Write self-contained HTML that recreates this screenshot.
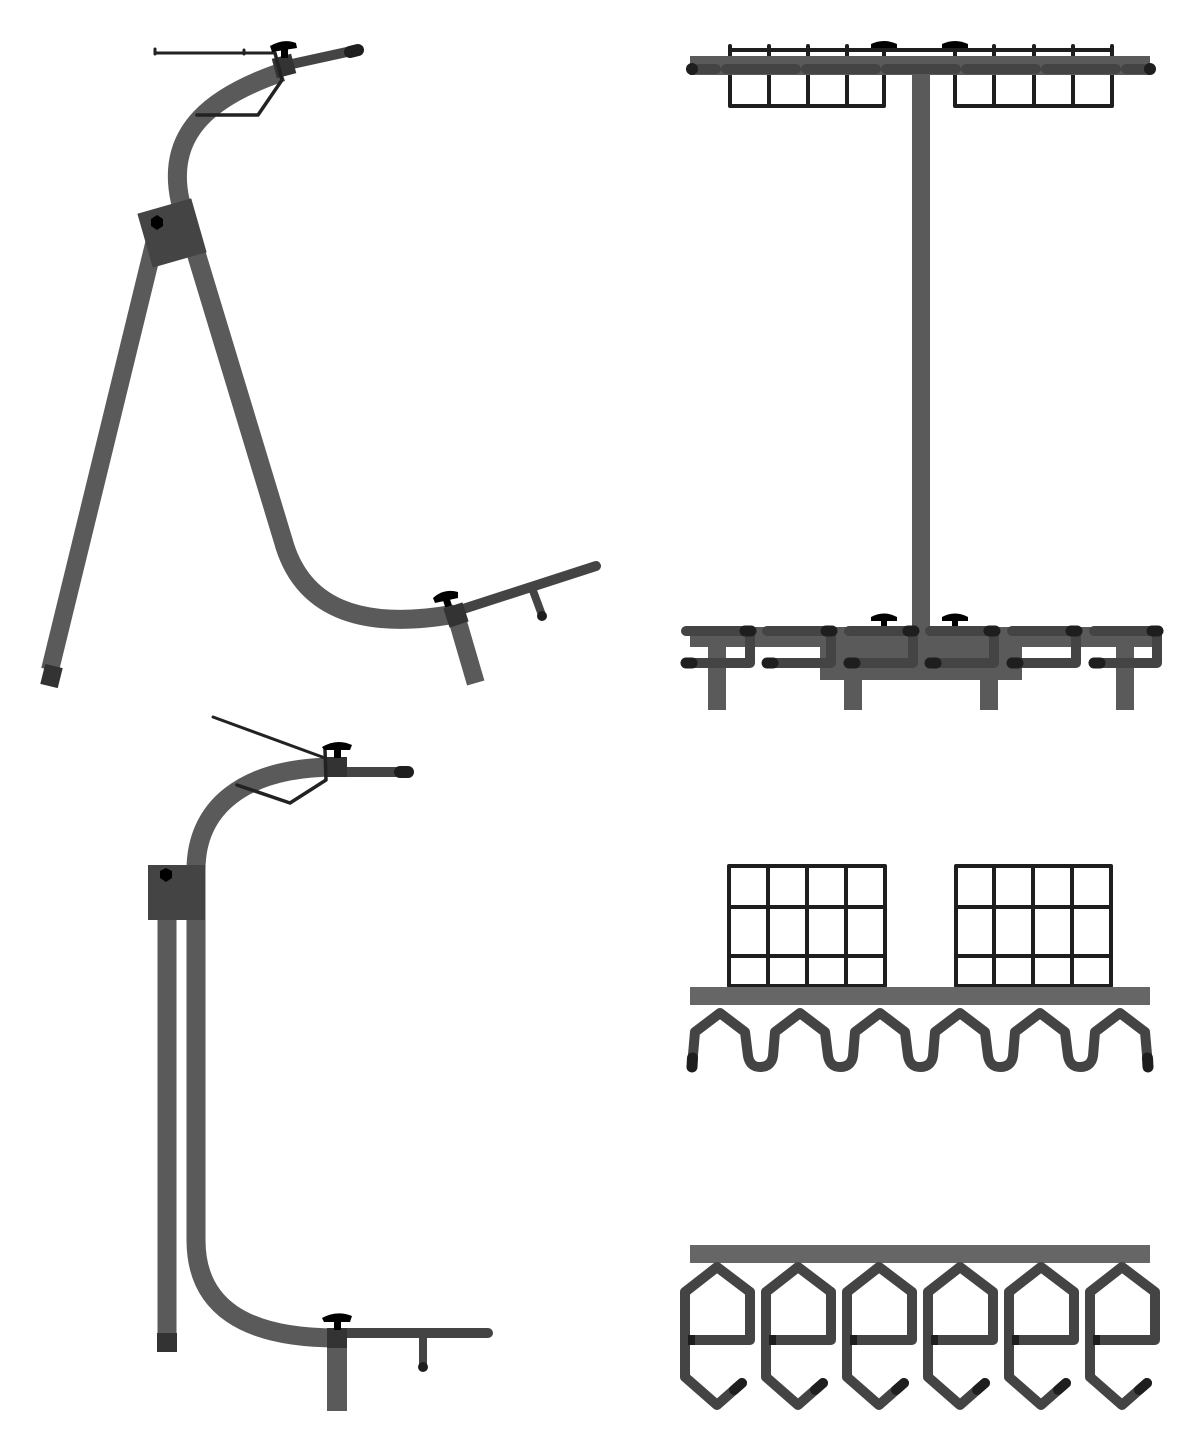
<!DOCTYPE html>
<html><head><meta charset="utf-8"><style>html,body{margin:0;padding:0;background:#fff}svg{display:block}</style></head>
<body>
<svg width="1200" height="1450" viewBox="0 0 1200 1450" xmlns="http://www.w3.org/2000/svg">
<g fill="none" stroke-linecap="round" stroke-linejoin="round">

<!-- ===== Side view 1 ===== -->
<line x1="155" y1="240" x2="50" y2="670" stroke="#5a5a5a" stroke-width="18" stroke-linecap="butt"/>
<line x1="54" y1="666" x2="49" y2="686" stroke="#333" stroke-width="18" stroke-linecap="butt"/>
<path d="M282,72 C215,95 165,130 180,200 L283,540 Q310,640 455,614" stroke="#5a5a5a" stroke-width="19" stroke-linecap="butt"/>
<line x1="292" y1="64" x2="356" y2="50" stroke="#444" stroke-width="10"/>
<line x1="350" y1="52" x2="358" y2="50" stroke="#1e1e1e" stroke-width="12"/>
<rect x="274" y="56" width="20" height="20" fill="#333" stroke="none" transform="rotate(-15 284 66)"/>
<rect x="144" y="205" width="56" height="56" fill="#444" stroke="none" transform="rotate(-16 172 233)"/>
<polygon points="157,215 163,219 163,226 157,230 151,226 151,219" fill="#000" stroke="none"/>
<!-- wire -->
<polyline points="155,53 275,53" stroke="#222" stroke-width="3"/>
<line x1="155" y1="49" x2="155" y2="54" stroke="#222" stroke-width="3"/>
<line x1="244" y1="50" x2="244" y2="54" stroke="#222" stroke-width="3"/>
<polyline points="275,53 282,80 258,115 197,115" stroke="#222" stroke-width="3.5"/>
<rect x="281" y="44" width="7" height="14" fill="#000" stroke="none"/>
<path d="M270,46 Q284,38 296,43 L297,48 L272,52 Z" fill="#000" stroke="none"/>
<!-- foot -->
<line x1="455" y1="612" x2="472" y2="684" stroke="#5a5a5a" stroke-width="18" stroke-linecap="butt" transform="rotate(-3 455 612)"/>
<line x1="460" y1="610" x2="596" y2="566" stroke="#444" stroke-width="10"/>
<line x1="532" y1="588" x2="542" y2="615" stroke="#444" stroke-width="8"/>
<circle cx="542" cy="616" r="5" fill="#1e1e1e" stroke="none"/>
<rect x="446" y="605" width="20" height="20" fill="#333" stroke="none" transform="rotate(-18 456 615)"/>
<rect x="443" y="595" width="7" height="12" fill="#000" stroke="none" transform="rotate(-18 446 600)"/>
<path d="M433,598 Q444,588 458,592 L458,598 L435,603 Z" fill="#000" stroke="none"/>

<!-- ===== Side view 2 ===== -->
<line x1="167" y1="915" x2="167" y2="1334" stroke="#5a5a5a" stroke-width="19" stroke-linecap="butt"/>
<rect x="157" y="1333" width="20" height="19" fill="#333" stroke="none"/>
<path d="M337,767 C240,767 196,810 196,870 L196,1240 Q196,1338 337,1338" stroke="#5a5a5a" stroke-width="19" stroke-linecap="butt"/>
<line x1="345" y1="772" x2="408" y2="772" stroke="#444" stroke-width="10"/>
<line x1="400" y1="772" x2="408" y2="772" stroke="#1e1e1e" stroke-width="12"/>
<rect x="327" y="757" width="20" height="20" fill="#333" stroke="none"/>
<rect x="148" y="865" width="57" height="55" fill="#444" stroke="none"/>
<polygon points="166,868 172,871 172,878 166,882 160,878 160,871" fill="#000" stroke="none"/>
<polyline points="213,717 325,758" stroke="#222" stroke-width="3"/>
<polyline points="325,750 326,780 290,803 237,785" stroke="#222" stroke-width="3.5"/>
<rect x="334" y="746" width="7" height="12" fill="#000" stroke="none"/>
<path d="M322,747 Q337,738 352,745 L350,750 L324,750 Z" fill="#000" stroke="none"/>
<rect x="327" y="1338" width="20" height="73" fill="#5a5a5a" stroke="none"/>
<line x1="345" y1="1333" x2="488" y2="1333" stroke="#444" stroke-width="10"/>
<line x1="423" y1="1333" x2="423" y2="1366" stroke="#444" stroke-width="8"/>
<circle cx="423" cy="1367" r="5" fill="#1e1e1e" stroke="none"/>
<rect x="327" y="1328" width="20" height="20" fill="#333" stroke="none"/>
<rect x="334" y="1318" width="7" height="12" fill="#000" stroke="none"/>
<path d="M322,1318 Q337,1310 352,1316 L350,1322 L324,1322 Z" fill="#000" stroke="none"/>

<!-- ===== Top right ===== -->
<rect x="912" y="70" width="18" height="560" fill="#5a5a5a" stroke="none"/>
<g stroke="#1e1e1e" stroke-width="4">
<polyline points="730,46 730,106 884,106 884,46"/>
<line x1="769" y1="46" x2="769" y2="106"/><line x1="808" y1="46" x2="808" y2="106"/><line x1="847" y1="46" x2="847" y2="106"/>
<line x1="730" y1="50" x2="884" y2="50"/>
<polyline points="955,46 955,106 1112,106 1112,46"/>
<line x1="994" y1="46" x2="994" y2="106"/><line x1="1034" y1="46" x2="1034" y2="106"/><line x1="1073" y1="46" x2="1073" y2="106"/>
<line x1="955" y1="50" x2="1112" y2="50"/>
<line x1="884" y1="50" x2="955" y2="50"/>
</g>
<rect x="690" y="56" width="460" height="19" fill="#5a5a5a" stroke="none"/>
<g stroke="#444" stroke-width="10">
<line x1="698" y1="69" x2="716" y2="69"/><line x1="726" y1="69" x2="796" y2="69"/>
<line x1="806" y1="69" x2="876" y2="69"/><line x1="886" y1="69" x2="956" y2="69"/>
<line x1="966" y1="69" x2="1036" y2="69"/><line x1="1046" y1="69" x2="1116" y2="69"/>
<line x1="1126" y1="69" x2="1144" y2="69"/>
</g>
<circle cx="692" cy="69" r="6" fill="#1e1e1e" stroke="none"/>
<circle cx="1150" cy="69" r="6" fill="#1e1e1e" stroke="none"/>
<path d="M871,44 Q884,38 897,44 L897,48 L871,48 Z" fill="#000"/>
<path d="M942,44 Q955,38 968,44 L968,48 L942,48 Z" fill="#000"/>

<!-- bottom of top right -->
<rect x="690" y="627" width="470" height="20" fill="#5a5a5a" stroke="none"/>
<rect x="820" y="647" width="202" height="33" fill="#5a5a5a" stroke="none"/>
<rect x="708" y="647" width="18" height="63" fill="#5a5a5a" stroke="none"/>
<rect x="844" y="647" width="18" height="63" fill="#5a5a5a" stroke="none"/>
<rect x="980" y="647" width="18" height="63" fill="#5a5a5a" stroke="none"/>
<rect x="1116" y="647" width="18" height="63" fill="#5a5a5a" stroke="none"/>
<g stroke="#444" stroke-width="10">
<polyline points="686,631 750,631 750,663 686,663"/>
<polyline points="767,631 831,631 831,663 767,663"/>
<polyline points="849,631 913,631 913,663 849,663"/>
<polyline points="930,631 994,631 994,663 930,663"/>
<polyline points="1012,631 1076,631 1076,663 1012,663"/>
<polyline points="1094,631 1157,631 1157,663 1094,663"/>
</g>
<g stroke="#1e1e1e" stroke-width="11">
<line x1="745" y1="631" x2="751" y2="631"/><line x1="686" y1="663" x2="692" y2="663"/>
<line x1="826" y1="631" x2="832" y2="631"/><line x1="767" y1="663" x2="773" y2="663"/>
<line x1="908" y1="631" x2="914" y2="631"/><line x1="849" y1="663" x2="855" y2="663"/>
<line x1="989" y1="631" x2="995" y2="631"/><line x1="930" y1="663" x2="936" y2="663"/>
<line x1="1071" y1="631" x2="1077" y2="631"/><line x1="1012" y1="663" x2="1018" y2="663"/>
<line x1="1152" y1="631" x2="1158" y2="631"/><line x1="1094" y1="663" x2="1100" y2="663"/>
</g>
<rect x="881" y="614" width="6" height="12" fill="#000"/>
<rect x="952" y="614" width="6" height="12" fill="#000"/>
<path d="M871,617 Q884,610 897,617 L897,621 L871,621 Z" fill="#000"/>
<path d="M942,617 Q955,610 968,617 L968,621 L942,621 Z" fill="#000"/>

<!-- ===== Middle right ===== -->
<g stroke="#1e1e1e" stroke-width="4">
<rect x="729" y="866" width="156" height="120"/>
<line x1="768" y1="866" x2="768" y2="986"/><line x1="807" y1="866" x2="807" y2="986"/><line x1="846" y1="866" x2="846" y2="986"/>
<line x1="729" y1="907" x2="885" y2="907"/><line x1="729" y1="956" x2="885" y2="956"/>
<rect x="956" y="866" width="155" height="120"/>
<line x1="994" y1="866" x2="994" y2="986"/><line x1="1033" y1="866" x2="1033" y2="986"/><line x1="1072" y1="866" x2="1072" y2="986"/>
<line x1="956" y1="907" x2="1111" y2="907"/><line x1="956" y1="956" x2="1111" y2="956"/>
</g>
<rect x="690" y="987" width="460" height="18" fill="#666" stroke="none"/>
<path d="M692,1066 L695,1032 L720,1013 L745,1032 L748,1056 Q750,1067 760,1067 Q771,1067 773,1056 L775,1032 L800,1013 L825,1032 L828,1056 Q830,1067 840,1067 Q851,1067 853,1056 L855,1032 L880,1013 L905,1032 L908,1056 Q910,1067 920,1067 Q931,1067 933,1056 L935,1032 L960,1013 L985,1032 L988,1056 Q990,1067 1000,1067 Q1011,1067 1013,1056 L1015,1032 L1040,1013 L1065,1032 L1068,1056 Q1070,1067 1080,1067 Q1091,1067 1093,1056 L1095,1032 L1120,1013 L1145,1032 L1148,1066" stroke="#444" stroke-width="10"/>
<line x1="692.5" y1="1058" x2="692" y2="1067" stroke="#1e1e1e" stroke-width="11"/>
<line x1="1147.5" y1="1058" x2="1148" y2="1067" stroke="#1e1e1e" stroke-width="11"/>

<!-- ===== Bottom right ===== -->
<rect x="690" y="1245" width="460" height="18" fill="#666" stroke="none"/>
<g stroke="#444" stroke-width="10">
<path d="M685,1340 L750,1340 L750,1292 L717,1267 L685,1292 L685,1377 L717,1405 L742,1383"/>
<path d="M766,1340 L831,1340 L831,1292 L798,1267 L766,1292 L766,1377 L798,1405 L823,1383"/>
<path d="M847,1340 L912,1340 L912,1292 L879,1267 L847,1292 L847,1377 L879,1405 L904,1383"/>
<path d="M928,1340 L993,1340 L993,1292 L960,1267 L928,1292 L928,1377 L960,1405 L985,1383"/>
<path d="M1009,1340 L1074,1340 L1074,1292 L1041,1267 L1009,1292 L1009,1377 L1041,1405 L1066,1383"/>
<path d="M1090,1340 L1155,1340 L1155,1292 L1122,1267 L1090,1292 L1090,1377 L1122,1405 L1147,1383"/>
</g>
<g stroke="#1e1e1e" stroke-width="10">
<line x1="734" y1="1390" x2="742" y2="1383"/><line x1="815" y1="1390" x2="823" y2="1383"/>
<line x1="896" y1="1390" x2="904" y2="1383"/><line x1="977" y1="1390" x2="985" y2="1383"/>
<line x1="1058" y1="1390" x2="1066" y2="1383"/><line x1="1139" y1="1390" x2="1147" y2="1383"/>
</g>
<g stroke="#1e1e1e" stroke-width="10" stroke-linecap="butt">
<line x1="688" y1="1340" x2="695" y2="1340"/><line x1="769" y1="1340" x2="776" y2="1340"/>
<line x1="850" y1="1340" x2="857" y2="1340"/><line x1="931" y1="1340" x2="938" y2="1340"/>
<line x1="1012" y1="1340" x2="1019" y2="1340"/><line x1="1093" y1="1340" x2="1100" y2="1340"/>
</g>
</g>
</svg>
</body></html>
